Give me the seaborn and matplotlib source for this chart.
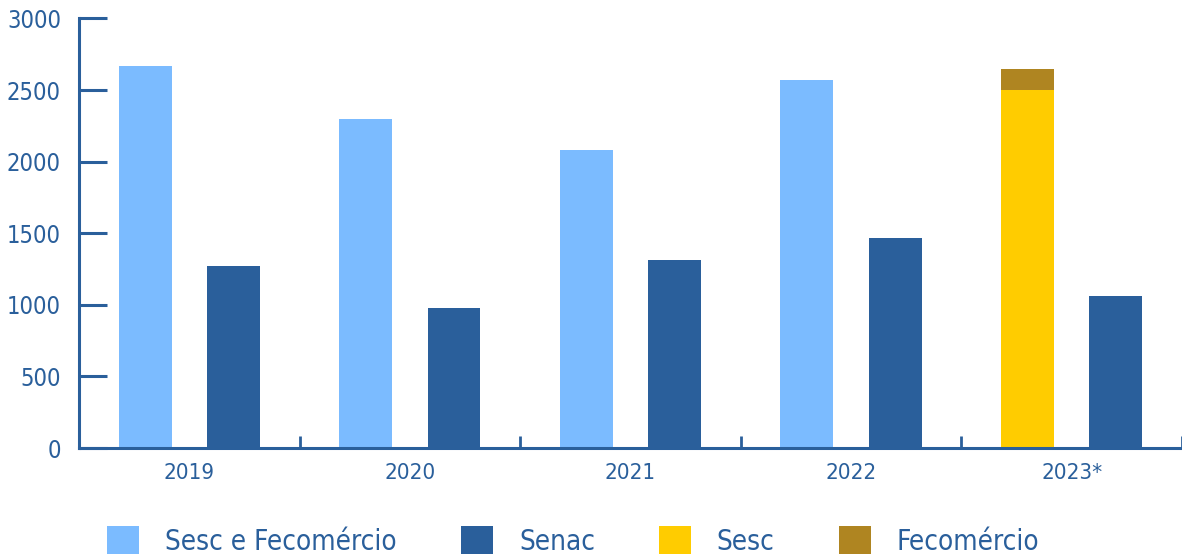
import pandas as pd
import matplotlib.pyplot as plt
import seaborn as sns
from matplotlib.patches import Patch

# ---------------------------
# Data
# ---------------------------

years = ["2019", "2020", "2021", "2022", "2023*"]
sesc_fecomercio = [2670, 2300, 2080, 2570]   # 2019-2022
senac = [1270, 975, 1315, 1470, 1060]
sesc_2023 = 2500
fecomercio_2023 = 145

series_names = ["Sesc e Fecomércio", "Senac", "Sesc", "Fecomércio"]
colors = {
    "Sesc e Fecomércio": "#7BBBFF",
    "Senac": "#2A5F9B",
    "Sesc": "#FFCC00",
    "Fecomércio": "#AF8521",
}
axis_color = "#2A5F9B"

# ---------------------------
# Build long tables
# ---------------------------

slots = ["left", "right"]

light_df = pd.DataFrame({"year": years[:4], "slot": "left", "value": sesc_fecomercio})
senac_df = pd.DataFrame({"year": years, "slot": "right", "value": senac})
sesc_df = pd.DataFrame({"year": [years[4]], "slot": "left", "value": [sesc_2023]})
stack_df = pd.DataFrame({"year": [years[4]], "slot": "left",
                         "value": [sesc_2023 + fecomercio_2023]})

# ---------------------------
# Plot
# ---------------------------

sns.set_style("white")
plt.rcParams["font.family"] = ["DejaVu Sans"]
plt.rcParams["font.stretch"] = "condensed"

fig = plt.figure(figsize=(11.82, 5.6), dpi=100)
ax = fig.add_axes([0.0668, 0.2, 0.9332, 0.767])

common = dict(x="year", y="value", hue="slot", order=years, hue_order=slots,
              width=0.8, gap=0.4, dodge=True, legend=False, ax=ax,
              saturation=1, errorbar=None)

sns.barplot(data=stack_df, palette={s: colors["Fecomércio"] for s in slots}, **common)
sns.barplot(data=sesc_df, palette={s: colors["Sesc"] for s in slots}, **common)
sns.barplot(data=light_df, palette={s: colors["Sesc e Fecomércio"] for s in slots}, **common)
sns.barplot(data=senac_df, palette={s: colors["Senac"] for s in slots}, **common)

for p in ax.patches:
    p.set_linewidth(0)

ax.set_xlim(-0.5, len(years) - 0.5)
ax.set_ylim(0, 3000)
ax.set_yticks(range(0, 3001, 500))
ax.set_xlabel("")
ax.set_ylabel("")

# group separators as major ticks, labels on minor ticks
ax.set_xticks([i + 0.5 for i in range(-1, len(years))])
ax.set_xticklabels([])
ax.set_xticks(range(len(years)), minor=True)
ax.set_xticklabels(years, minor=True)

ax.tick_params(axis="x", which="major", direction="in", length=9, width=2,
               color=axis_color)
ax.tick_params(axis="x", which="minor", length=0, pad=11, labelsize=16,
               labelcolor=axis_color)
ax.tick_params(axis="y", direction="in", length=20, width=2.2,
               color=axis_color, pad=13, labelsize=17, labelcolor=axis_color)
ax.tick_params(left=True, bottom=True, which="both")

for side in ["top", "right"]:
    ax.spines[side].set_visible(False)
for side in ["left", "bottom"]:
    ax.spines[side].set_color(axis_color)
    ax.spines[side].set_linewidth(2.2)

handles = [Patch(facecolor=colors[n], edgecolor="none", label=n) for n in series_names]
fig.legend(handles=handles, loc="center", bbox_to_anchor=(0.485, 0.034), ncol=4,
           frameon=False, fontsize=20, labelcolor=axis_color,
           handlelength=1.15, handleheight=1.15, handletextpad=0.94,
           columnspacing=2.3)

fig.savefig("out.png", dpi=100)
plt.close(fig)
